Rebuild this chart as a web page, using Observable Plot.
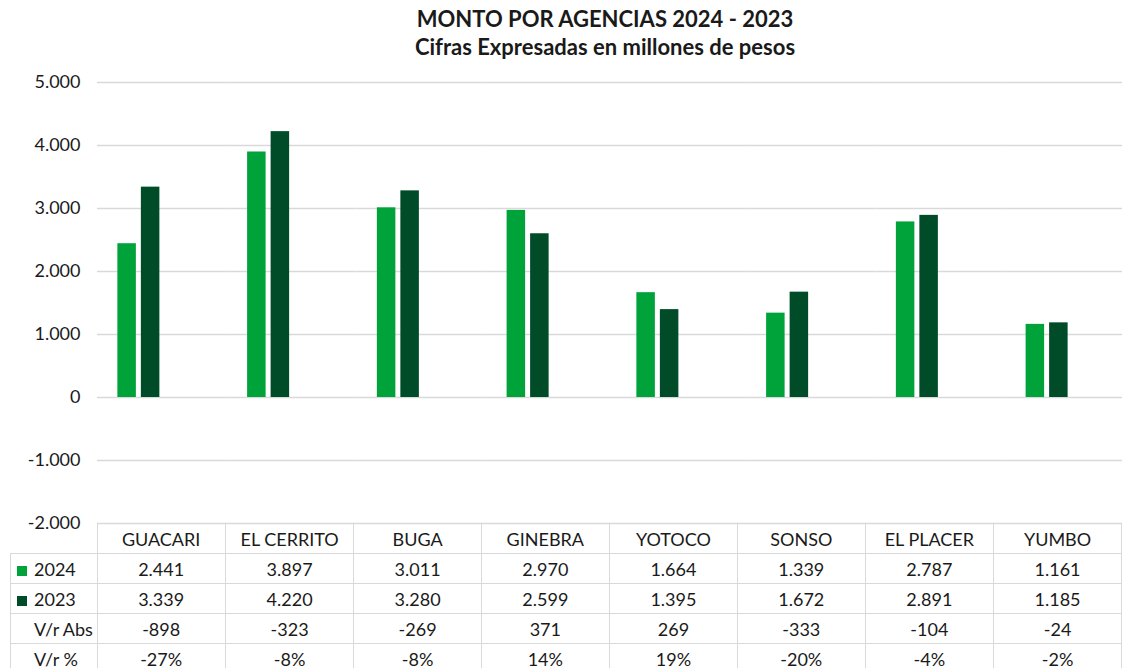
<!DOCTYPE html>
<html><head><meta charset="utf-8">
<script src="https://cdn.jsdelivr.net/npm/d3@7"></script>
<script src="https://cdn.jsdelivr.net/npm/@observablehq/plot@0.6"></script>
<style>
html,body{margin:0;padding:0;background:#fff;overflow:hidden;width:1122px;height:668px;}
#wrap{position:relative;width:1122px;height:668px;font-family:Lato,sans-serif;color:#1a1a1a;overflow:hidden;}
#title{position:absolute;left:0;top:5px;width:1210px;text-align:center;font-weight:bold;font-size:22px;line-height:28px;}
#chart{position:absolute;left:0;top:70px;}
#tbl{position:absolute;left:10px;top:523px;border-collapse:collapse;table-layout:fixed;font-size:18px;}
#tbl td{border:1.5px solid #d9d9d9;height:29px;padding:0;text-align:center;white-space:nowrap;overflow:hidden;}
#tbl td.lab{text-align:left;padding-left:6px;}
#tbl td.lab.nokey{padding-left:23px;}
#tbl td.blank{border-top:none;border-left:none;}
.key{display:inline-block;width:10px;height:10px;margin-right:7px;vertical-align:0px;}
</style>
</head><body>
<div id="wrap">
  <div id="title"><div>MONTO POR AGENCIAS 2024 - 2023</div><div>Cifras Expresadas en millones de pesos</div></div>
  <div id="chart"></div>
  <table id="tbl"></table>
</div>
<script>
const categories = ["GUACARI","EL CERRITO","BUGA","GINEBRA","YOTOCO","SONSO","EL PLACER","YUMBO"];
const seriesNames = ["2024","2023","V/r Abs","V/r %"];
const v2024 = [2441,3897,3011,2970,1664,1339,2787,1161];
const v2023 = [3339,4220,3280,2599,1395,1672,2891,1185];
const vrAbs = [-898,-323,-269,371,269,-333,-104,-24];
const vrPct = [-27,-8,-8,14,19,-20,-4,-2];
const yTicks = [-2000,-1000,0,1000,2000,3000,4000,5000];
const c2024 = "#00a33a";
const c2023 = "#004b28";

const locale = d3.formatLocale({decimal:",", thousands:".", grouping:[3], currency:["$",""], minus:"-"});
const fmt = locale.format(",d");

const rows = [];
categories.forEach((c,i)=>{
  rows.push({agency:c, series:"2024", value:v2024[i]});
  rows.push({agency:c, series:"2023", value:v2023[i]});
});

const plot = Plot.plot({
  width: 1135, height: 465,
  marginLeft: 97, marginRight: 0, marginTop: 12, marginBottom: 12,
  style: {fontFamily: "Lato, sans-serif", fontSize: "18px", color: "#1a1a1a", maxWidth: "none", overflow: "visible", background: "transparent"},
  fx: {domain: categories, padding: 0, round: false, axis: null},
  x: {domain: seriesNames, paddingInner: 0.213, paddingOuter: 0.866, round: false, axis: null},
  y: {domain: [-2000,5000], ticks: yTicks, tickFormat: fmt, tickSize: 0, tickPadding: 17, label: null},
  color: {domain: ["2024","2023"], range: [c2024, c2023]},
  marks: [
    Plot.ruleY(yTicks, {stroke: "#d9d9d9", strokeWidth: 1.5}),
    Plot.barY(rows, {fx: "agency", x: "series", y: "value", fill: "series"})
  ]
});
document.getElementById("chart").appendChild(plot);

// data table
const tbl = document.getElementById("tbl");
let html = '<colgroup><col style="width:86.7px">' + categories.map(()=>'<col style="width:129.7px">').join("") + '</colgroup>';
html += '<tr><td class="blank"></td>' + categories.map(c=>`<td>${c}</td>`).join("") + '</tr>';
html += `<tr><td class="lab"><span class="key" style="background:${c2024}"></span>${seriesNames[0]}</td>` + v2024.map(v=>`<td>${fmt(v)}</td>`).join("") + '</tr>';
html += `<tr><td class="lab"><span class="key" style="background:${c2023}"></span>${seriesNames[1]}</td>` + v2023.map(v=>`<td>${fmt(v)}</td>`).join("") + '</tr>';
html += `<tr><td class="lab nokey">${seriesNames[2]}</td>` + vrAbs.map(v=>`<td>${fmt(v)}</td>`).join("") + '</tr>';
html += `<tr><td class="lab nokey">${seriesNames[3]}</td>` + vrPct.map(v=>`<td>${v}%</td>`).join("") + '</tr>';
tbl.innerHTML = html;
</script>
</body></html>
